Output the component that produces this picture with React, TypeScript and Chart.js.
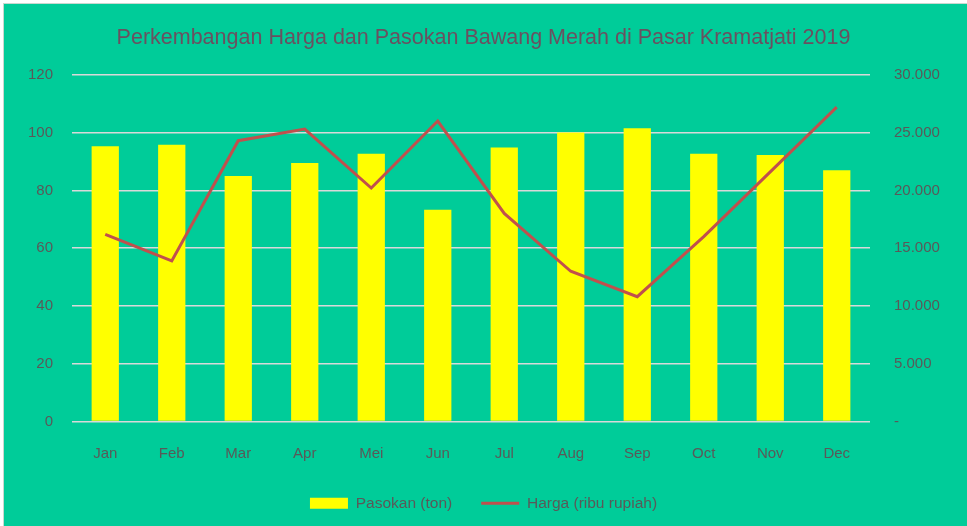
import React, { useEffect, useRef } from "react";
import { Chart, registerables } from "chart.js";

Chart.register(...registerables);

const months = ["Jan", "Feb", "Mar", "Apr", "Mei", "Jun", "Jul", "Aug", "Sep", "Oct", "Nov", "Dec"];
const pasokan = [95.3, 95.8, 85, 89.5, 92.7, 73.3, 94.8, 100, 101.5, 92.7, 92.2, 87];
const harga = [16200, 13900, 24300, 25300, 20200, 26000, 18000, 13000, 10800, 16000, 21600, 27200];
const titleText = "Perkembangan Harga dan Pasokan Bawang Merah di Pasar Kramatjati 2019";
const pasokanLabel = "Pasokan (ton)";
const hargaLabel = "Harga (ribu rupiah)";

const FONT = "'Liberation Sans', Arial, sans-serif";
const GREEN = "#00CC99";
const TEXT = "#595959";

const bgPlugin = {
  id: "bg",
  beforeDraw(chart: any) {
    const { ctx, width, height } = chart;
    ctx.save();
    ctx.fillStyle = "#ffffff";
    ctx.fillRect(0, 0, width, height);
    ctx.fillStyle = "#c8d8d0";
    ctx.fillRect(3, 3, width - 3, height - 3);
    ctx.fillStyle = GREEN;
    ctx.fillRect(4, 4, width - 4, height - 4);
    ctx.restore();
  },
};

function fmtRp(v: number): string {
  if (v === 0) return "-";
  return String(Math.round(v)).replace(/\B(?=(\d{3})+(?!\d))/g, ".");
}

export default function App() {
  const ref = useRef<HTMLCanvasElement | null>(null);
  useEffect(() => {
    if (!ref.current) return;
    const chart = new Chart(ref.current, {
      type: "bar",
      data: {
        labels: months,
        datasets: [
          {
            type: "line",
            label: hargaLabel,
            data: harga,
            yAxisID: "y1",
            borderColor: "#C0504D",
            backgroundColor: "#C0504D",
            borderWidth: 3,
            pointRadius: 0,
            tension: 0,
            order: 0,
          } as any,
          {
            type: "bar",
            label: pasokanLabel,
            data: pasokan,
            yAxisID: "y",
            backgroundColor: "#FFFF00",
            borderColor: "#d8f020",
            borderWidth: 0,
            barPercentage: 0.41,
            categoryPercentage: 1,
            order: 1,
          } as any,
        ],
      },
      options: {
        responsive: false,
        animation: false,
        layout: { padding: { top: 0, bottom: 5, left: 0, right: 0 } },
        plugins: {
          title: {
            display: true,
            text: titleText,
            color: "#6A5060",
            font: { family: FONT, size: 21.5, weight: "normal" as any },
            padding: { top: 25, bottom: 24 },
          },
          legend: {
            position: "bottom",
            labels: {
              color: TEXT,
              font: { family: FONT, size: 15.5 },
              padding: 29,
              usePointStyle: true,
              pointStyleWidth: 38,
              boxHeight: 11,
              generateLabels: (c: any) => {
                return [
                  {
                    text: pasokanLabel,
                    fillStyle: "#FFFF00",
                    strokeStyle: "#FFFF00",
                    lineWidth: 0,
                    pointStyle: "rect",
                    datasetIndex: 1,
                    hidden: false,
                    fontColor: TEXT,
                  },
                  {
                    text: hargaLabel,
                    fillStyle: "#C0504D",
                    strokeStyle: "#C0504D",
                    lineWidth: 3,
                    pointStyle: "line",
                    datasetIndex: 0,
                    hidden: false,
                    fontColor: TEXT,
                  },
                ];
              },
            },
          },
          tooltip: { enabled: false },
        },
        scales: {
          x: {
            grid: { display: false },
            border: { display: false },
            ticks: { color: TEXT, font: { family: FONT, size: 15 }, padding: 15 },
            afterFit: (s: any) => {
              s.height = 45;
            },
          },
          y: {
            position: "left",
            min: 0,
            max: 120,
            ticks: { stepSize: 20, color: TEXT, font: { family: FONT, size: 15 }, padding: 19 },
            grid: { color: "#d9d9d9", lineWidth: 1.5, drawTicks: false },
            border: { display: false },
            afterFit: (s: any) => {
              s.width = 72;
            },
          },
          y1: {
            position: "right",
            min: 0,
            max: 30000,
            ticks: {
              stepSize: 5000,
              color: TEXT,
              font: { family: FONT, size: 15 },
              padding: 24,
              callback: (v: any) => fmtRp(Number(v)),
            },
            grid: { drawOnChartArea: false, drawTicks: false },
            border: { display: false },
            afterFit: (s: any) => {
              s.width = 97;
            },
          },
        },
      },
      plugins: [bgPlugin],
    });
    return () => chart.destroy();
  }, []);
  return (
    <div style={{ position: "absolute", left: 0, top: 0, width: 967, height: 526 }}>
      <canvas ref={ref} width={967} height={526} style={{ display: "block" }} />
    </div>
  );
}
